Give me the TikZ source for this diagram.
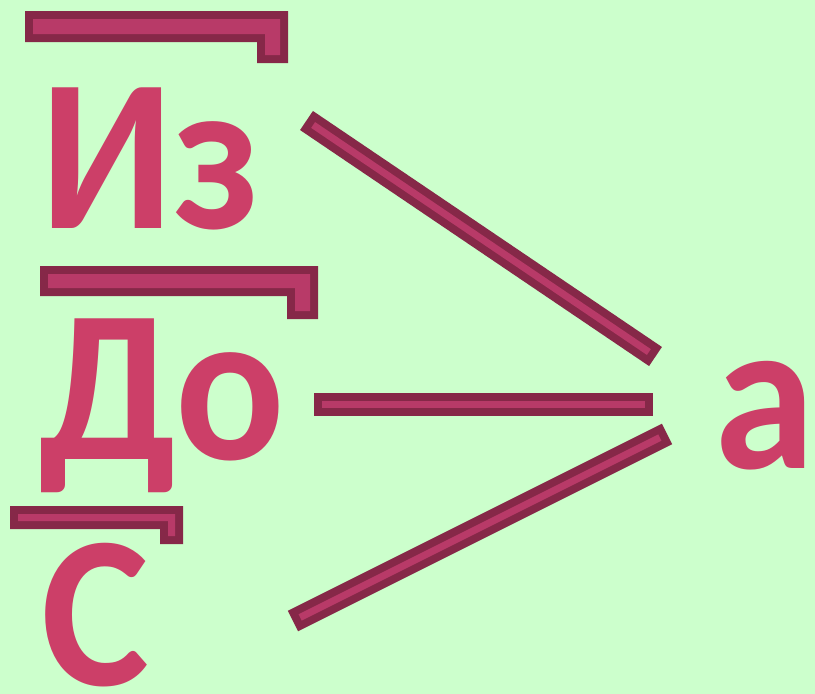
\documentclass[tikz,border=0pt]{standalone}
\usepackage{fontspec}
\newfontfamily\wordfont{Carlito}
\definecolor{bg}{HTML}{CCFFCC}
\definecolor{bardark}{HTML}{862848}
\definecolor{barlight}{HTML}{B83A68}
\definecolor{txtcol}{HTML}{CC3F68}
\newcommand{\wf}{\wordfont\bfseries\fontsize{217}{217}\selectfont}
\newcommand{\narrow}[1]{\scalebox{0.94}[1]{#1}}
\tikzset{
  word/.style={inner sep=0pt, font=\wf, text=txtcol, anchor=base west},
  barouter/.style={draw=bardark, line width=23pt, line cap=butt},
  barinner/.style={draw=barlight, line width=7pt, line cap=butt, shorten <=8pt, shorten >=8pt},
  brkouter/.style={fill=bardark},
  brkinner/.style={fill=barlight}
}
\begin{document}
\begin{tikzpicture}[x=1pt, y=-1pt]
  \fill[bg] (0,0) rectangle (815,694);
  \useasboundingbox (0,0) rectangle (815,694);
  % brackets
  \fill[brkouter] (25,11) -- (288,11) -- (288,63) -- (257,63) -- (257,42) -- (25,42) -- cycle;
  \fill[brkinner] (33,19) -- (280,19) -- (280,55) -- (265,55) -- (265,34) -- (33,34) -- cycle;
  \fill[brkouter] (40,266) -- (318,266) -- (318,319) -- (287,319) -- (287,296) -- (40,296) -- cycle;
  \fill[brkinner] (48,274) -- (310,274) -- (310,311) -- (295,311) -- (295,288) -- (48,288) -- cycle;
  \fill[brkouter] (10,506) -- (183,506) -- (183,544) -- (160,544) -- (160,529) -- (10,529) -- cycle;
  \fill[brkinner] (18,514) -- (175,514) -- (175,536) -- (168,536) -- (168,521) -- (18,521) -- cycle;
  % words
  \node[word] (iz) at (40,228) {\narrow{Из}};
  \node[word] (do) at (39,459) {\narrow{До}};
  \node[word] (s)  at (41,685) {\narrow{С}};
  \node[word] (a)  at (714,468) {\narrow{а}\kern-10pt};
  % connector ends
  \coordinate (l1s) at (306.5,120.5);
  \coordinate (l1e) at (655.5,356.5);
  \coordinate (l2s) at (314,404.5);
  \coordinate (l2e) at (653,404.5);
  \coordinate (l3s) at (293,621);
  \coordinate (l3e) at (667,434);
  \foreach \p/\q in {l1s/l1e, l2s/l2e, l3s/l3e} {
    \draw[barouter] (\p) -- (\q);
    \draw[barinner] (\p) -- (\q);
  }
\end{tikzpicture}
\end{document}
